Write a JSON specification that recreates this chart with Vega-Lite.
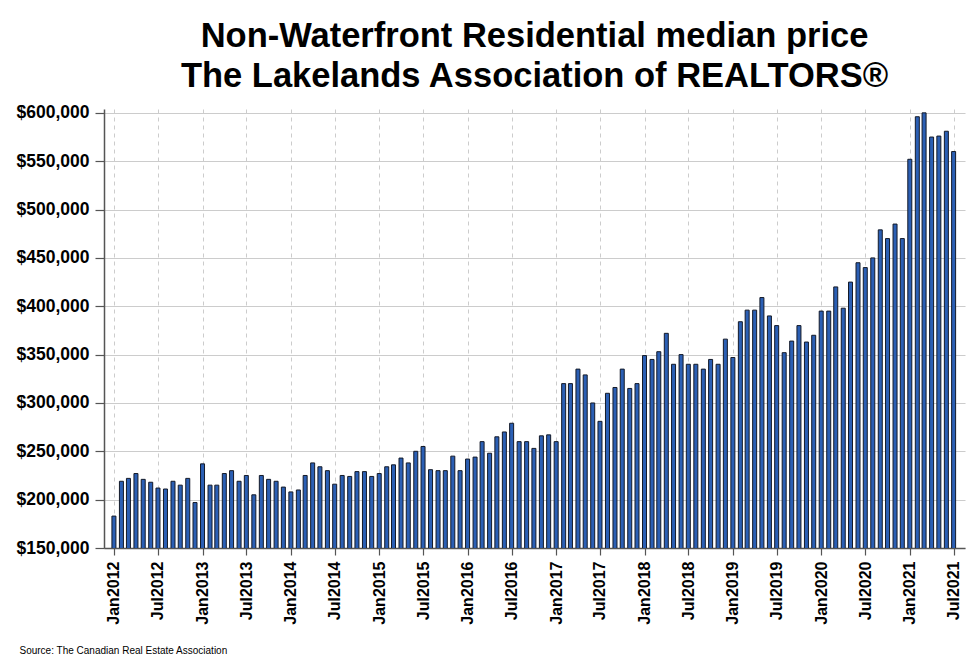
{
  "$schema": "https://vega.github.io/schema/vega-lite/v6.json",
  "description": "Non-Waterfront Residential median price, monthly",
  "width": 861,
  "height": 439,
  "autosize": "none",
  "padding": {"left": 104, "top": 109, "right": 15, "bottom": 123},
  "background": "white",
  "title": {
    "text": ["Non-Waterfront Residential median price", "The Lakelands Association of REALTORS®"],
    "font": "Liberation Sans",
    "fontSize": 34.5,
    "fontWeight": "bold",
    "color": "black",
    "lineHeight": 40,
    "anchor": "middle",
    "offset": 9
  },
  "data": {
    "values": [
      {"month": "2012-01-01", "price": 183000}, {"month": "2012-02-01", "price": 219000}, {"month": "2012-03-01", "price": 222000},
      {"month": "2012-04-01", "price": 227000}, {"month": "2012-05-01", "price": 221000}, {"month": "2012-06-01", "price": 218000},
      {"month": "2012-07-01", "price": 212000}, {"month": "2012-08-01", "price": 211000}, {"month": "2012-09-01", "price": 219000},
      {"month": "2012-10-01", "price": 215000}, {"month": "2012-11-01", "price": 222000}, {"month": "2012-12-01", "price": 197000},
      {"month": "2013-01-01", "price": 237000}, {"month": "2013-02-01", "price": 215000}, {"month": "2013-03-01", "price": 215000},
      {"month": "2013-04-01", "price": 227000}, {"month": "2013-05-01", "price": 230000}, {"month": "2013-06-01", "price": 219000},
      {"month": "2013-07-01", "price": 225000}, {"month": "2013-08-01", "price": 205000}, {"month": "2013-09-01", "price": 225000},
      {"month": "2013-10-01", "price": 221000}, {"month": "2013-11-01", "price": 219000}, {"month": "2013-12-01", "price": 213000},
      {"month": "2014-01-01", "price": 208000}, {"month": "2014-02-01", "price": 210000}, {"month": "2014-03-01", "price": 225000},
      {"month": "2014-04-01", "price": 238000}, {"month": "2014-05-01", "price": 234000}, {"month": "2014-06-01", "price": 230000},
      {"month": "2014-07-01", "price": 216000}, {"month": "2014-08-01", "price": 225000}, {"month": "2014-09-01", "price": 224000},
      {"month": "2014-10-01", "price": 229000}, {"month": "2014-11-01", "price": 229000}, {"month": "2014-12-01", "price": 224000},
      {"month": "2015-01-01", "price": 227000}, {"month": "2015-02-01", "price": 234000}, {"month": "2015-03-01", "price": 236000},
      {"month": "2015-04-01", "price": 243000}, {"month": "2015-05-01", "price": 238000}, {"month": "2015-06-01", "price": 250000},
      {"month": "2015-07-01", "price": 255000}, {"month": "2015-08-01", "price": 231000}, {"month": "2015-09-01", "price": 230000},
      {"month": "2015-10-01", "price": 230000}, {"month": "2015-11-01", "price": 245000}, {"month": "2015-12-01", "price": 230000},
      {"month": "2016-01-01", "price": 242000}, {"month": "2016-02-01", "price": 244000}, {"month": "2016-03-01", "price": 260000},
      {"month": "2016-04-01", "price": 248000}, {"month": "2016-05-01", "price": 265000}, {"month": "2016-06-01", "price": 270000},
      {"month": "2016-07-01", "price": 279000}, {"month": "2016-08-01", "price": 260000}, {"month": "2016-09-01", "price": 260000},
      {"month": "2016-10-01", "price": 253000}, {"month": "2016-11-01", "price": 266000}, {"month": "2016-12-01", "price": 267000},
      {"month": "2017-01-01", "price": 260000}, {"month": "2017-02-01", "price": 320000}, {"month": "2017-03-01", "price": 320000},
      {"month": "2017-04-01", "price": 335000}, {"month": "2017-05-01", "price": 329000}, {"month": "2017-06-01", "price": 300000},
      {"month": "2017-07-01", "price": 281000}, {"month": "2017-08-01", "price": 310000}, {"month": "2017-09-01", "price": 316000},
      {"month": "2017-10-01", "price": 335000}, {"month": "2017-11-01", "price": 315000}, {"month": "2017-12-01", "price": 320000},
      {"month": "2018-01-01", "price": 349000}, {"month": "2018-02-01", "price": 345000}, {"month": "2018-03-01", "price": 353000},
      {"month": "2018-04-01", "price": 372000}, {"month": "2018-05-01", "price": 340000}, {"month": "2018-06-01", "price": 350000},
      {"month": "2018-07-01", "price": 340000}, {"month": "2018-08-01", "price": 340000}, {"month": "2018-09-01", "price": 335000},
      {"month": "2018-10-01", "price": 345000}, {"month": "2018-11-01", "price": 340000}, {"month": "2018-12-01", "price": 366000},
      {"month": "2019-01-01", "price": 347000}, {"month": "2019-02-01", "price": 384000}, {"month": "2019-03-01", "price": 396000},
      {"month": "2019-04-01", "price": 396000}, {"month": "2019-05-01", "price": 409000}, {"month": "2019-06-01", "price": 390000},
      {"month": "2019-07-01", "price": 380000}, {"month": "2019-08-01", "price": 352000}, {"month": "2019-09-01", "price": 364000},
      {"month": "2019-10-01", "price": 380000}, {"month": "2019-11-01", "price": 363000}, {"month": "2019-12-01", "price": 370000},
      {"month": "2020-01-01", "price": 395000}, {"month": "2020-02-01", "price": 395000}, {"month": "2020-03-01", "price": 420000},
      {"month": "2020-04-01", "price": 398000}, {"month": "2020-05-01", "price": 425000}, {"month": "2020-06-01", "price": 445000},
      {"month": "2020-07-01", "price": 440000}, {"month": "2020-08-01", "price": 450000}, {"month": "2020-09-01", "price": 479000},
      {"month": "2020-10-01", "price": 470000}, {"month": "2020-11-01", "price": 485000}, {"month": "2020-12-01", "price": 470000},
      {"month": "2021-01-01", "price": 552000}, {"month": "2021-02-01", "price": 596000}, {"month": "2021-03-01", "price": 600000},
      {"month": "2021-04-01", "price": 575000}, {"month": "2021-05-01", "price": 576000}, {"month": "2021-06-01", "price": 581000},
      {"month": "2021-07-01", "price": 560000}
    ]
  },
  "mark": {
    "type": "bar",
    "size": 4,
    "fill": "#2b5fb4",
    "stroke": "#141a28",
    "strokeWidth": 1,
    "clip": true
  },
  "encoding": {
    "x": {
      "field": "month",
      "type": "temporal",
      "scale": {
        "type": "utc",
        "nice": false,
        "padding": 0,
        "domain": [
          {"year": 2011, "month": 11, "date": 21, "utc": true},
          {"year": 2021, "month": 8, "date": 17, "utc": true}
        ]
      },
      "axis": {
        "title": "Source: The Canadian Real Estate Association",
        "titleFont": "Liberation Sans",
        "titleFontSize": 10,
        "titleFontWeight": "normal",
        "titleColor": "black",
        "titleAnchor": null,
        "titleAlign": "left",
        "titleBaseline": "top",
        "titleX": -85,
        "titleY": 97,
        "tickCount": {"interval": "month", "step": 6},
        "labelExpr": "utcFormat(datum.value, '%b%Y')",
        "labelAngle": -90,
        "labelAlign": "right",
        "labelBaseline": "middle",
        "labelFont": "Liberation Sans",
        "labelFontSize": 16,
        "labelFontWeight": "bold",
        "labelColor": "black",
        "labelPadding": 6,
        "labelOverlap": false,
        "labelFlush": false,
        "tickSize": 7,
        "tickColor": "#555555",
        "tickWidth": 1.2,
        "domainColor": "#555555",
        "domainWidth": 1.5,
        "grid": true,
        "gridColor": "#cccccc",
        "gridDash": [4, 4],
        "gridWidth": 1
      }
    },
    "y": {
      "field": "price",
      "type": "quantitative",
      "scale": {"domain": [150000, 604000], "zero": false, "nice": false},
      "axis": {
        "title": null,
        "values": [150000, 200000, 250000, 300000, 350000, 400000, 450000, 500000, 550000, 600000],
        "format": "$,.0f",
        "labelFont": "Liberation Sans",
        "labelFontSize": 17.5,
        "labelFontWeight": "bold",
        "labelColor": "black",
        "labelPadding": 6,
        "tickSize": 9,
        "tickColor": "#555555",
        "tickWidth": 1.2,
        "domainColor": "#555555",
        "domainWidth": 1.5,
        "grid": true,
        "gridColor": "#cccccc",
        "gridWidth": 1.2
      }
    }
  },
  "config": {
    "view": {"stroke": null}
  }
}
